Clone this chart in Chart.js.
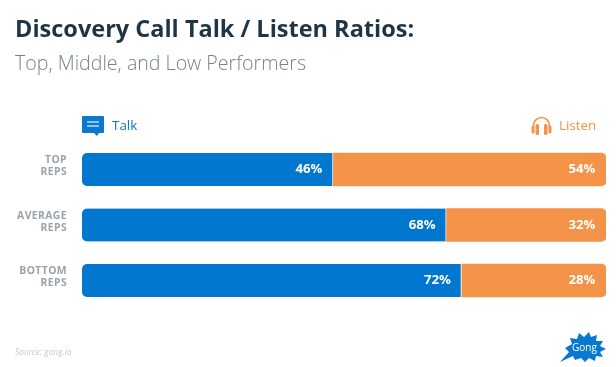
<!DOCTYPE html>
<html>
<head>
<meta charset="utf-8">
<script src="https://cdn.jsdelivr.net/npm/chart.js@4"></script>
<style>
    html, body { margin: 0; padding: 0; background: #fff; }
    body { width: 616px; height: 367px; position: relative; overflow: hidden; font-family: "Open Sans", sans-serif; }
    .txt { position: absolute; white-space: nowrap; line-height: 1; }
    #title { left: 15px; top: 17px; font-size: 23.5px; font-weight: 700; color: #1f3445; }
    #subtitle { left: 15px; top: 53px; font-size: 19.6px; font-weight: 300; color: #76838d; }
    #talk { left: 112px; top: 119px; font-size: 13.4px; color: #0b78cf; }
    #listen { left: 559px; top: 119px; font-size: 13.4px; color: #f49347; }
    #source { left: 15px; top: 348px; font-size: 8.4px; font-style: italic; color: #c3c8cc; }
    #gong { left: 572px; top: 342px; font-size: 10px; color: #fff; }
    svg { position: absolute; }
    #wrap { position: absolute; left: 0; top: 0; width: 616px; height: 367px; }
</style>
</head>
<body>
<div id="wrap"><canvas id="ratioChart" width="616" height="367"></canvas></div>

<div class="txt" id="title">Discovery Call Talk / Listen Ratios:</div>
<div class="txt" id="subtitle">Top, Middle, and Low Performers</div>

<svg style="left:82px;top:116px" width="23" height="21" viewBox="0 0 23 21">
    <path d="M1 0H21a1 1 0 0 1 1 1V16a1 1 0 0 1-1 1H17L15 20L12 17H1a1 1 0 0 1-1-1V1a1 1 0 0 1 1-1Z" fill="#0b78cf"/>
    <path d="M5 6H17M5 10H17" stroke="#bcdcf5" stroke-width="1.6"/>
</svg>
<div class="txt" id="talk">Talk</div>

<svg style="left:531px;top:116px" width="21" height="20" viewBox="0 0 21 20">
    <path d="M2.5 12V9.5a8 8 0 0 1 16 0V12" fill="none" stroke="#f49347" stroke-width="1.6"/>
    <rect x="0.5" y="9.5" width="3" height="8" rx="1.5" fill="#f49347"/>
    <rect x="4.5" y="8" width="3.5" height="11" rx="1.5" fill="#f49347"/>
    <rect x="13" y="8" width="3.5" height="11" rx="1.5" fill="#f49347"/>
    <rect x="17.5" y="9.5" width="3" height="8" rx="1.5" fill="#f49347"/>
</svg>
<div class="txt" id="listen">Listen</div>

<div class="txt" id="source">Source: gong.io</div>

<svg style="left:560px;top:331px" width="47" height="32" viewBox="0 0 47 32">
    <path d="M0 31L9 21L5 17L12 13L10 7L17 8L19 2L24 6L29 1L31 6L37 4L36 10L43 10L40 15L46 18L40 21L43 26L36 25L35 30L29 27L25 31L21 27L15 29L13 25Z" fill="#0b78cf"/>
</svg>
<div class="txt" id="gong">Gong</div>

<script>
var categories = [['TOP', 'REPS'], ['AVERAGE', 'REPS'], ['BOTTOM', 'REPS']];
// the printed percentages
var talkLabels = ['46%', '68%', '72%'];
var listenLabels = ['54%', '32%', '28%'];
// bar lengths as drawn in the picture, they do not quite follow the printed numbers
var talkValues = [47.9, 69.5, 72.4];
var listenValues = [52.1, 30.5, 27.6];

const barLabels = {
    id: 'barLabels',
    // tick labels sit a little above the bar centre and are letter spaced
    beforeDraw(chart) {
        chart.ctx.letterSpacing = '0.4px';
        chart.ctx.translate(0, -3);
    },
    beforeDatasetsDraw(chart) {
        chart.ctx.letterSpacing = '0px';
        chart.ctx.translate(0, 3);
    },
    afterDatasetsDraw(chart) {
        const ctx = chart.ctx;
        const texts = [talkLabels, listenLabels];
        ctx.save();
        ctx.font = '700 13.2px "Open Sans"';
        ctx.fillStyle = '#fff';
        ctx.textAlign = 'right';
        ctx.textBaseline = 'middle';
        chart.data.datasets.forEach((ds, i) => {
            chart.getDatasetMeta(i).data.forEach((bar, j) => {
                ctx.fillText(texts[i][j], bar.x - 10.5, bar.y);
            });
        });
        ctx.restore();
    }
};

let ctxRatio = document.getElementById('ratioChart');
let ratioChart = new Chart(ctxRatio, {
    type: 'bar',
    data: {
        labels: categories,
        datasets: [{
            label: 'Talk',
            data: talkValues,
            backgroundColor: '#0277cf',
            borderColor: '#fff',
            borderWidth: { right: 1 },
            borderSkipped: false,
            borderRadius: { topLeft: 5, bottomLeft: 5 }
        }, {
            label: 'Listen',
            data: listenValues,
            backgroundColor: '#f49347',
            borderWidth: 0,
            borderRadius: { topRight: 5, bottomRight: 5 }
        }]
    },
    options: {
        indexAxis: 'y',
        responsive: false,
        animation: false,
        barThickness: 33,
        layout: { padding: { left: 0, right: 10, top: 141.75, bottom: 58.75 } },
        plugins: { legend: { display: false }, tooltip: { enabled: false } },
        scales: {
            x: { stacked: true, min: 0, max: 100, display: false },
            y: {
                stacked: true,
                afterFit(scale) { scale.width = 82; },
                border: { display: false },
                grid: { display: false },
                ticks: {
                    color: '#9aa3a9',
                    padding: 7,
                    font: { family: '"Open Sans"', size: 10.4, weight: '700', lineHeight: 1.15 }
                }
            }
        }
    },
    plugins: [barLabels]
});
</script>
</body>
</html>
